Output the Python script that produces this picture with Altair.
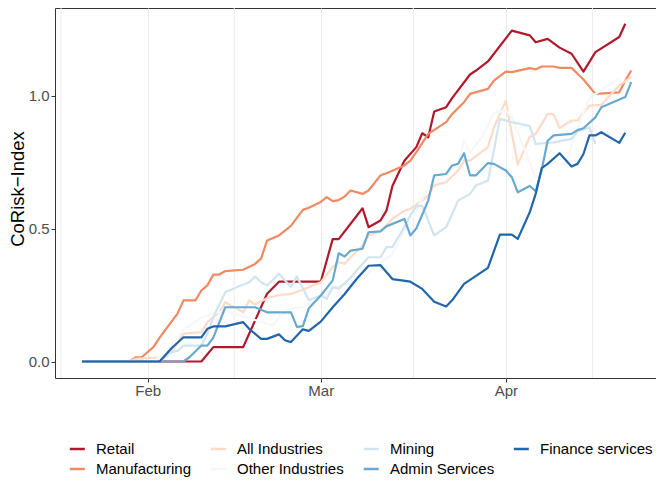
import altair as alt
import pandas as pd

series_names = ["Retail", "Manufacturing", "All Industries", "Other Industries",
                "Mining", "Admin Services", "Finance services"]
series_colors = ["#b2182b", "#ef8a62", "#fddbc7", "#f7f7f7", "#d1e5f0", "#67a9cf", "#2166ac"]

# day offsets from 2020-01-21
retail_days = [0, 20, 22, 27, 31, 33, 40, 42, 43, 47, 48, 50, 51, 52, 54, 56, 57, 58, 59, 61, 62,
               65, 66, 68, 72, 75, 76, 78, 80, 82, 84, 86, 90, 91]
retail_vals = [0, 0, 0.054, 0.054, 0.255, 0.30, 0.30, 0.46, 0.46, 0.576, 0.505, 0.53, 0.567, 0.66,
               0.755, 0.806, 0.858, 0.843, 0.94, 0.956, 0.99, 1.079, 1.094, 1.128, 1.244, 1.226,
               1.20, 1.213, 1.18, 1.157, 1.09, 1.163, 1.22, 1.27]

manuf_days = [0, 8, 9, 10, 12, 13, 16, 17, 19, 20, 21, 22, 23, 24, 27, 29, 30, 31, 33, 35, 37, 38,
              40, 41, 42, 43, 44, 45, 47, 48, 50, 51, 54, 55, 56, 58, 61, 62, 64, 65, 68, 69, 71,
              72, 75, 76, 77, 79, 80, 82, 83, 84, 86, 90, 91, 92]
manuf_vals = [0, 0, 0.016, 0.016, 0.055, 0.09, 0.18, 0.23, 0.23, 0.267, 0.286, 0.327, 0.327, 0.34,
              0.345, 0.367, 0.387, 0.455, 0.474, 0.51, 0.57, 0.578, 0.60, 0.618, 0.603, 0.607,
              0.62, 0.643, 0.63, 0.643, 0.70, 0.708, 0.737, 0.755, 0.787, 0.856, 0.90, 0.93,
              0.975, 1.006, 1.025, 1.056, 1.09, 1.088, 1.103, 1.098, 1.109, 1.109, 1.104, 1.104,
              1.082, 1.06, 1.006, 1.012, 1.056, 1.094]

allind_days = [0, 8, 9, 13, 15, 17, 20, 21, 23, 24, 26, 27, 28, 29, 31, 33, 35, 37, 40, 42, 43, 44,
               45, 47, 48, 50, 52, 54, 55, 57, 58, 59, 61, 63, 64, 65, 68, 69, 71, 72, 73, 75, 76,
               78, 79, 80, 82, 83, 85, 87, 88, 90, 92]
allind_vals = [0, 0, 0.01, 0.015, 0.035, 0.105, 0.11, 0.148, 0.185, 0.223, 0.198, 0.185, 0.23,
               0.214, 0.238, 0.25, 0.254, 0.27, 0.298, 0.355, 0.373, 0.367, 0.392, 0.436, 0.474,
               0.49, 0.536, 0.567, 0.574, 0.605, 0.624, 0.662, 0.674, 0.718, 0.755, 0.755, 0.806,
               0.88, 0.98, 0.856, 0.74, 0.845, 0.856, 0.93, 0.93, 0.878, 0.906, 0.906, 0.962,
               0.965, 0.99, 1.038, 1.07]

other_days = [0, 12, 14, 17, 20, 22, 24, 27, 32, 33, 35, 37, 40, 42, 45, 47, 49, 52, 54, 56, 58,
              61, 63, 64, 65, 67, 69, 71, 72, 76, 79, 81, 83, 85, 90]
other_vals = [0, 0, 0.03, 0.12, 0.165, 0.18, 0.19, 0.17, 0.135, 0.167, 0.2, 0.205, 0.236, 0.28,
              0.292, 0.31, 0.355, 0.405, 0.49, 0.567, 0.655, 0.705, 0.743, 0.83, 0.787, 0.843,
              0.935, 0.944, 0.92, 0.69, 0.75, 0.74, 0.88, 0.99, 1.066]

mining_days = [0, 13, 15, 16, 17, 20, 21, 22, 24, 26, 28, 29, 30, 31, 33, 35, 36, 38, 40, 41, 42,
               43, 45, 46, 48, 50, 51, 52, 54, 55, 56, 57, 58, 59, 61, 63, 65, 66, 68, 69, 70, 72,
               75, 76, 79, 82, 83, 85, 86]
mining_vals = [0, 0, 0.035, 0.04, 0.06, 0.06, 0.104, 0.167, 0.26, 0.28, 0.298, 0.32, 0.298, 0.286,
               0.33, 0.28, 0.32, 0.23, 0.248, 0.236, 0.28, 0.274, 0.315, 0.342, 0.392, 0.392, 0.43,
               0.43, 0.505, 0.55, 0.583, 0.586, 0.53, 0.474, 0.505, 0.605, 0.63, 0.662, 0.68,
               0.793, 0.912, 0.90, 0.885, 0.818, 0.824, 0.837, 0.865, 0.88, 0.818]

admin_days = [0, 17, 18, 20, 21, 22, 24, 29, 31, 35, 36, 37, 38, 40, 42, 43, 44, 45, 47, 48, 50,
              51, 54, 55, 56, 58, 59, 61, 62, 63, 64, 65, 66, 68, 69, 71, 72, 73, 75, 76, 77, 78,
              79, 82, 83, 84, 86, 87, 91, 92]
admin_vals = [0, 0, 0.016, 0.06, 0.06, 0.09, 0.204, 0.204, 0.185, 0.185, 0.13, 0.133, 0.2, 0.248,
              0.305, 0.407, 0.395, 0.417, 0.424, 0.486, 0.489, 0.508, 0.536, 0.474, 0.5, 0.605,
              0.70, 0.705, 0.737, 0.743, 0.783, 0.70, 0.70, 0.746, 0.743, 0.718, 0.693, 0.636,
              0.66, 0.64, 0.72, 0.83, 0.85, 0.856, 0.87, 0.877, 0.918, 0.956, 0.994, 1.05]

finance_days = [0, 13, 15, 17, 20, 21, 22, 24, 27, 28, 30, 31, 33, 34, 35, 37, 38, 40, 42, 44, 46,
                48, 50, 52, 55, 57, 59, 61, 62, 64, 68, 70, 72, 73, 75, 76, 77, 78, 80, 82, 83, 84,
                85, 86, 87, 90, 91]
finance_vals = [0, 0, 0.05, 0.091, 0.091, 0.123, 0.132, 0.132, 0.148, 0.123, 0.085, 0.085, 0.102,
                0.08, 0.073, 0.121, 0.115, 0.15, 0.204, 0.254, 0.31, 0.36, 0.362, 0.31, 0.30,
                0.273, 0.225, 0.207, 0.23, 0.292, 0.352, 0.477, 0.477, 0.461, 0.561, 0.63, 0.727,
                0.743, 0.783, 0.733, 0.743, 0.78, 0.85, 0.85, 0.862, 0.822, 0.86]

tick_days = [11, 40, 71]
tick_labels = ["Feb", "Mar", "Apr"]
minor_days = [-3.5, 25.5, 55.5, 85.5]
y_ticks = [0, 0.5, 1.0]

all_days = [retail_days, manuf_days, allind_days, other_days, mining_days, admin_days, finance_days]
all_vals = [retail_vals, manuf_vals, allind_vals, other_vals, mining_vals, admin_vals, finance_vals]

rows = []
for name, days, vals in zip(series_names, all_days, all_vals):
    for d, v in zip(days, vals):
        rows.append({"series": name, "day": d, "value": v})
df = pd.DataFrame(rows)
minor_df = pd.DataFrame({"day": minor_days})

label_expr = " : ".join(f"datum.value == {d} ? '{l}'" for d, l in zip(tick_days[:-1], tick_labels[:-1]))
label_expr += f" : '{tick_labels[-1]}'"

FONT = "Liberation Sans"
x_scale = alt.Scale(domain=[-4.52, 96.15], nice=False, zero=False)
y_scale = alt.Scale(domain=[-0.062, 1.329], nice=False, zero=False)

x_axis = alt.Axis(values=tick_days, labelExpr=label_expr, title=None, grid=True,
                  gridColor="#EBEBEB", gridWidth=1, domain=False, ticks=True,
                  tickColor="#333333", tickSize=4, tickWidth=1, labelFont=FONT,
                  labelFontSize=15, labelColor="#4D4D4D", labelPadding=1.5)
y_axis = alt.Axis(values=y_ticks, format=".1f", title="CoRisk\u2212Index", grid=False,
                  domain=False, ticks=True, tickColor="#333333", tickSize=4, tickWidth=1,
                  labelFont=FONT, labelFontSize=15, labelColor="#4D4D4D", labelPadding=2,
                  titleFont=FONT, titleFontSize=18.5, titleFontWeight="normal",
                  titleColor="black", titleAngle=270, titleX=-37.5, titleY=180.5,
                  titleAlign="center", titleBaseline="middle")

legend = alt.Legend(title=None, orient="none", legendX=13.3, legendY=432, columns=4,
                    symbolType="stroke", symbolSize=225, symbolStrokeWidth=2.5,
                    labelFont=FONT, labelFontSize=15, labelColor="black", labelOffset=9.7,
                    columnPadding=14, rowPadding=3, padding=0, gridAlign="each")
color = alt.Color("series:N", scale=alt.Scale(domain=series_names, range=series_colors),
                  legend=legend)

minor = alt.Chart(minor_df).mark_rule(color="#EBEBEB", strokeWidth=1).encode(
    x=alt.X("day:Q", scale=x_scale, axis=x_axis)
)

layers = [minor]
for name in series_names:
    layers.append(
        alt.Chart(df).transform_filter(alt.datum.series == name).mark_line(
            strokeWidth=2.2, strokeJoin="round", clip=True
        ).encode(
            x=alt.X("day:Q", scale=x_scale, axis=x_axis),
            y=alt.Y("value:Q", scale=y_scale, axis=y_axis),
            color=color,
        )
    )

chart = alt.layer(*layers).properties(
    width=601, height=370,
    autosize=alt.AutoSizeParams(type="none"),
    padding={"left": 47, "top": 0, "right": 0, "bottom": 100},
).configure(font=FONT).configure_view(stroke="#333333", strokeWidth=1)

chart.save("out.html", embed_options={"renderer": "svg", "actions": False})
